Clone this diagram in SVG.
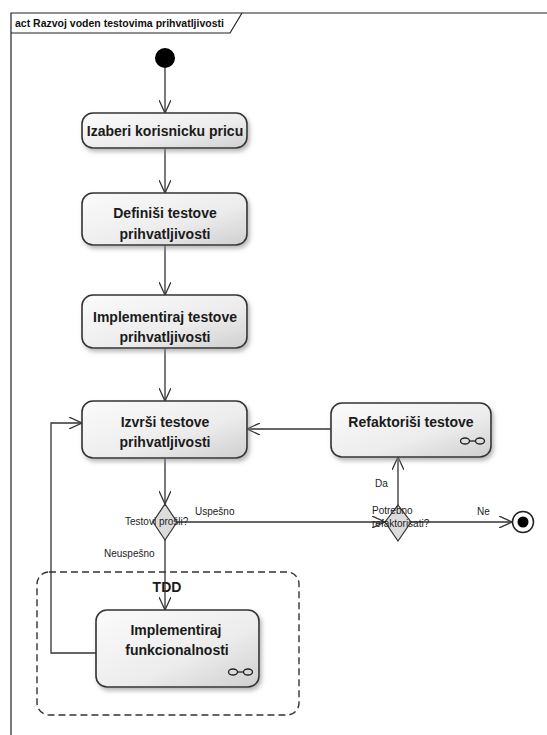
<svg xmlns="http://www.w3.org/2000/svg" width="547" height="735" viewBox="0 0 547 735">
<style>
.frame{fill:none;stroke:#222;stroke-width:1.2}
.title{font-family:"Liberation Sans",Arial,sans-serif;font-size:10.5px;font-weight:bold;fill:#111}
.act{fill:url(#g);stroke:#333;stroke-width:1.6;filter:url(#sh)}
.lbl{font-family:"Liberation Sans",Arial,sans-serif;font-size:14px;font-weight:bold;fill:#1a1a1a;text-anchor:middle}
.sm{font-family:"Liberation Sans",Arial,sans-serif;font-size:10px;fill:#222}
.edge{fill:none;stroke:#333;stroke-width:1.3}
.dia{fill:#dcdcdc;stroke:#333;stroke-width:1.2}
.ico{fill:none;stroke:#222;stroke-width:1.3}
</style>
<defs>
<linearGradient id="g" x1="0" y1="0" x2="1" y2="1">
<stop offset="0" stop-color="#fbfbfb"/>
<stop offset="0.6" stop-color="#ececec"/>
<stop offset="1" stop-color="#cfcfcf"/>
</linearGradient>
<filter id="sh" x="-10%" y="-10%" width="130%" height="140%">
<feDropShadow dx="2" dy="3" stdDeviation="2" flood-color="#888" flood-opacity="0.6"/>
</filter>
<marker id="arr" viewBox="0 0 14 12" markerWidth="14" markerHeight="12" refX="13" refY="6" orient="auto" markerUnits="userSpaceOnUse">
<path d="M0,0 L13,6 L0,12" fill="none" stroke="#333" stroke-width="1.3"/>
</marker>
</defs>
<rect width="547" height="735" fill="#fff"/>
<g id="frame">
<path class="frame" d="M11,735 L11,13 L547,13"/>
<path class="frame" d="M11,33 L230,33 L242,13"/>
<text class="title" x="15" y="27">act Razvoj  voden testovima prihvatljivosti</text>
</g>
<g id="tdd-region">
<rect x="37" y="572" width="262" height="143" rx="12" fill="none" stroke="#333" stroke-width="1.4" stroke-dasharray="7,4"/>
<text class="lbl" x="167" y="592">TDD</text>
</g>
<g id="connectors">
<path class="edge" d="M165,68 L165,113" marker-end="url(#arr)"/>
<path class="edge" d="M165,148 L165,193" marker-end="url(#arr)"/>
<path class="edge" d="M165,245 L165,295" marker-end="url(#arr)"/>
<path class="edge" d="M165,348 L165,401" marker-end="url(#arr)"/>
<path class="edge" d="M165,458 L165,504" marker-end="url(#arr)"/>
<path class="edge" d="M165,540 L165,610" marker-end="url(#arr)"/>
<path class="edge" d="M96,653 L51,653 L51,423 L82,423" marker-end="url(#arr)"/>
<path class="edge" d="M331,429 L247,429" marker-end="url(#arr)"/>
<path class="edge" d="M177,522 L385,522" marker-end="url(#arr)"/>
<path class="edge" d="M398,505 L398,457" marker-end="url(#arr)"/>
<path class="edge" d="M411,522 L512,522" marker-end="url(#arr)"/>
</g>
<g id="start">
<circle cx="165" cy="58" r="10" fill="#000"/>
</g>
<g id="n1">
<rect class="act" x="82" y="113" width="165" height="35" rx="11"/>
<text class="lbl" x="165" y="136">Izaberi korisnicku pricu</text>
</g>
<g id="n2">
<rect class="act" x="82" y="193" width="165" height="52" rx="11"/>
<text class="lbl" x="165" y="218">Definiši testove</text>
<text class="lbl" x="165" y="239">prihvatljivosti</text>
</g>
<g id="n3">
<rect class="act" x="82" y="295" width="165" height="53" rx="11"/>
<text class="lbl" x="165" y="322">Implementiraj testove</text>
<text class="lbl" x="165" y="342">prihvatljivosti</text>
</g>
<g id="n4">
<rect class="act" x="82" y="401" width="165" height="57" rx="11"/>
<text class="lbl" x="165" y="427">Izvrši testove</text>
<text class="lbl" x="165" y="447">prihvatljivosti</text>
</g>
<g id="n5">
<rect class="act" x="331" y="403" width="160" height="54" rx="11"/>
<text class="lbl" x="411" y="427">Refaktoriši testove</text>
<g class="ico"><ellipse cx="465" cy="441" rx="4.5" ry="3"/><ellipse cx="480" cy="441" rx="4.5" ry="3"/><line x1="469.5" y1="441" x2="475.5" y2="441"/></g>
</g>
<g id="n6">
<rect class="act" x="96" y="610" width="163" height="77" rx="11"/>
<text class="lbl" x="176" y="635">Implementiraj</text>
<text class="lbl" x="177" y="655">funkcionalnosti</text>
<g class="ico"><ellipse cx="233" cy="672" rx="4.5" ry="3"/><ellipse cx="248" cy="672" rx="4.5" ry="3"/><line x1="237.5" y1="672" x2="243.5" y2="672"/></g>
</g>
<g id="d1">
<path class="dia" d="M165,504 L177,522 L165,540 L153,522 Z"/>
<text class="sm" x="125" y="525">Testovi prošli?</text>
</g>
<g id="d2">
<path class="dia" d="M398,505 L411,522 L398,541 L385,522 Z"/>
<text class="sm" x="372" y="514">Potrebno</text>
<text class="sm" x="372" y="527">refaktorisati?</text>
</g>
<g id="end">
<circle cx="523" cy="522" r="10.5" fill="#fff" stroke="#222" stroke-width="1.5"/>
<circle cx="523" cy="522" r="5.5" fill="#000"/>
</g>
<g id="edge-labels">
<text class="sm" x="195" y="515">Uspešno</text>
<text class="sm" x="104" y="557">Neuspešno</text>
<text class="sm" x="375" y="487">Da</text>
<text class="sm" x="477" y="515">Ne</text>
</g>
</svg>
